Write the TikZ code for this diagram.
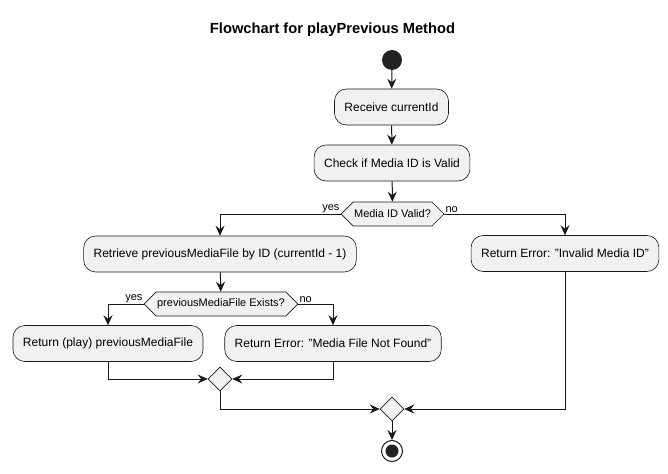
\documentclass[tikz,border=0pt]{standalone}
\usepackage{fontspec}
\setmainfont{Liberation Sans}
\usetikzlibrary{arrows.meta,shapes.geometric,shapes.symbols}
\definecolor{boxfill}{HTML}{F1F1F1}
\definecolor{boxline}{HTML}{181818}
\definecolor{dotfill}{HTML}{222222}
\begin{document}
\begin{tikzpicture}[x=1pt,y=-1pt,
  every node/.style={font=\fontsize{12}{14}\selectfont},
  act/.style={draw=boxline,fill=boxfill,rounded corners=12pt,minimum height=36pt,inner xsep=10pt,line width=0.6pt},
  hexa/.style={draw=boxline,fill=boxfill,shape=signal,signal to=west and east,signal pointer angle=90,minimum height=24pt,inner xsep=1pt,inner ysep=2pt,font=\fontsize{11}{13}\selectfont,line width=0.6pt},
  merge/.style={draw=boxline,fill=boxfill,shape=diamond,minimum width=24pt,minimum height=24pt,inner sep=0pt,line width=0.6pt},
  lbl/.style={font=\fontsize{11}{13}\selectfont,inner sep=1pt},
  flow/.style={draw=boxline,line width=1pt,-{Stealth[length=10pt,width=9pt,inset=3.5pt]}},
  plain/.style={draw=boxline,line width=1pt}
]
\useasboundingbox (0,0) rectangle (668,473);
\node[font=\bfseries\fontsize{14.7}{17}\selectfont] (title) at (332.5,30) {Flowchart for playPrevious Method};
\node[circle,fill=dotfill,minimum size=20pt,inner sep=0pt] (start) at (392,60) {};
\node[act] (recv) at (391.5,107) {Receive currentId};
\node[act] (check) at (392,163) {Check if Media ID is Valid};
\node[hexa] (d1) at (392.5,214) {Media ID Valid?};
\node[act] (retr) at (220,254) {Retrieve previousMediaFile by ID (currentId - 1)};
\node[act] (inval) at (565,253.5) {Return Error: "Invalid Media ID"};
\node[hexa] (d2) at (221,304) {previousMediaFile Exists?};
\node[act] (play) at (108,343.5) {Return (play) previousMediaFile};
\node[act] (nf) at (333,343.5) {Return Error: "Media File Not Found"};
\node[merge] (m1) at (220,379) {};
\node[merge] (m2) at (392,409) {};
\node[circle,draw=boxline,line width=1pt,fill=white,minimum size=21pt,inner sep=0pt] (stop) at (392,451) {};
\node[circle,fill=dotfill,minimum size=13pt,inner sep=0pt] (stopin) at (stop.center) {};
\node[lbl,anchor=south east] (y1) at (d1.west) {yes};
\node[lbl,anchor=south west] (n1) at (d1.east) {no};
\node[lbl,anchor=south east] (y2) at (d2.west) {yes};
\node[lbl,anchor=south west] (n2) at (d2.east) {no};
\draw[flow] (start) -- (recv);
\draw[flow] (recv) -- (check);
\draw[flow] (check) -- (d1);
\draw[flow] (d1.west) -| (retr.north);
\draw[flow] (d1.east) -| (inval.north);
\draw[flow] (retr) -- (d2);
\draw[flow] (d2.west) -| (play.north);
\draw[flow] (d2.east) -| (nf.north);
\draw[flow] (play.south) |- (m1.west);
\draw[flow] (nf.south) |- (m1.east);
\draw[flow] (m1.south) |- (m2.west);
\draw[flow] (inval.south) |- (m2.east);
\draw[flow] (m2.south) -- (stop.north);
\end{tikzpicture}
\end{document}
